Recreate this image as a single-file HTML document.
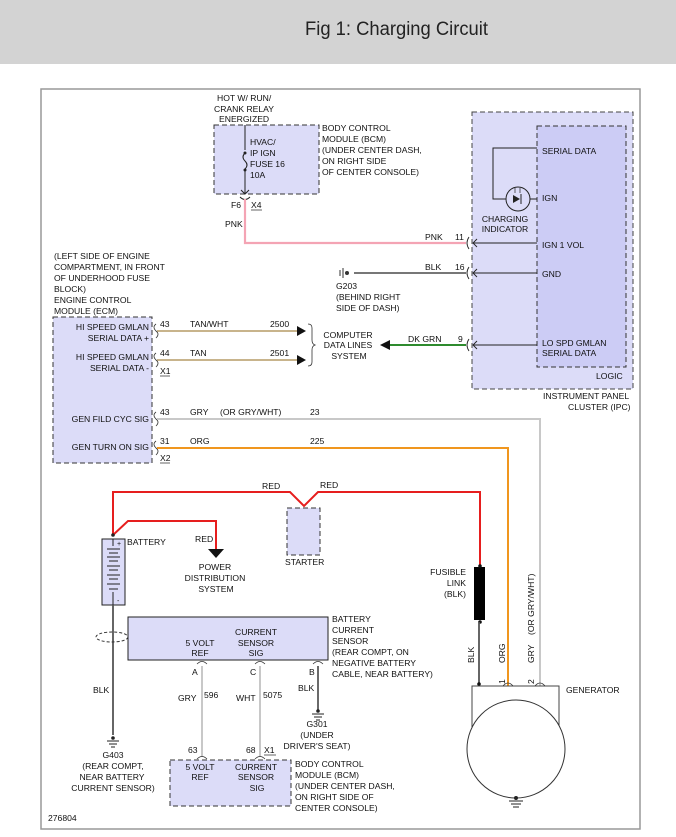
<!DOCTYPE html>
<html><head><meta charset="utf-8"><style>
html,body{margin:0;padding:0;background:#fff;width:676px;height:837px;overflow:hidden}
svg{display:block}
text{font-family:"Liberation Sans",sans-serif;font-size:8.6px;fill:#111}
.t{font-family:"Liberation Sans Narrow","Liberation Sans",sans-serif;font-size:19px;fill:#222}
</style></head><body>
<svg width="676" height="837" viewBox="0 0 676 837" xmlns="http://www.w3.org/2000/svg">
<rect x="0" y="0" width="676" height="64" fill="#d3d3d3"/>
<text class="t" x="305" y="35" textLength="183" lengthAdjust="spacingAndGlyphs">Fig 1: Charging Circuit</text>
<rect x="41" y="89" width="599" height="740" fill="#fff" stroke="#999" stroke-width="1.5"/>

<!-- top BCM -->
<text x="217" y="101">HOT W/ RUN/</text>
<text x="214" y="112">CRANK RELAY</text>
<text x="219" y="122">ENERGIZED</text>
<rect x="214" y="125" width="105" height="69" fill="#dcdcf8" stroke="#333" stroke-dasharray="5,3"/>
<line x1="245" y1="125" x2="245" y2="150" stroke="#222"/>
<path d="M245 153 q-4 4 0 8 q4 4 0 8" fill="none" stroke="#222"/>
<line x1="245" y1="170" x2="245" y2="194" stroke="#222"/>
<circle cx="245" cy="153" r="1.5" fill="#222"/><circle cx="245" cy="170" r="1.5" fill="#222"/>
<path d="M241 190 L245 194 L249 190" fill="none" stroke="#222"/>
<text x="250" y="145">HVAC/</text><text x="250" y="156">IP IGN</text><text x="250" y="167">FUSE 16</text><text x="250" y="178">10A</text>
<text x="322" y="131">BODY CONTROL</text><text x="322" y="142">MODULE (BCM)</text><text x="322" y="153">(UNDER CENTER DASH,</text><text x="322" y="164">ON RIGHT SIDE</text><text x="322" y="175">OF CENTER CONSOLE)</text>
<path d="M240 197 q5 5 10 0" fill="none" stroke="#222"/>
<text x="231" y="208">F6</text><text x="251" y="208">X4</text><line x1="251" y1="210" x2="262" y2="210" stroke="#222" stroke-width=".7"/>
<text x="225" y="227">PNK</text>
<polyline points="245,199 245,243 466,243" fill="none" stroke="#f4a4b4" stroke-width="2.2"/>
<text x="425" y="240">PNK</text><text x="455" y="240">11</text>

<line x1="354" y1="273" x2="466" y2="273" stroke="#777" stroke-width="2"/>
<line x1="340" y1="270" x2="340" y2="276" stroke="#333"/><line x1="343" y1="268" x2="343" y2="278" stroke="#333"/><circle cx="347" cy="273" r="2" fill="#333"/>
<text x="425" y="270">BLK</text><text x="455" y="270">16</text>
<text x="336" y="289">G203</text><text x="336" y="300">(BEHIND RIGHT</text><text x="336" y="311">SIDE OF DASH)</text>

<!-- ECM -->
<text x="54" y="259">(LEFT SIDE OF ENGINE</text><text x="54" y="270">COMPARTMENT, IN FRONT</text><text x="54" y="281">OF UNDERHOOD FUSE</text><text x="54" y="292">BLOCK)</text><text x="54" y="303">ENGINE CONTROL</text><text x="54" y="314">MODULE (ECM)</text>
<rect x="53" y="317" width="99" height="146" fill="#dcdcf8" stroke="#333" stroke-dasharray="5,3"/>
<g text-anchor="end">
<text x="149" y="330">HI SPEED GMLAN</text><text x="149" y="341">SERIAL DATA +</text>
<text x="149" y="360">HI SPEED GMLAN</text><text x="149" y="371">SERIAL DATA -</text>
<text x="149" y="422">GEN FILD CYC SIG</text><text x="149" y="450">GEN TURN ON SIG</text>
</g>
<line x1="157" y1="331" x2="298" y2="331" stroke="#c8b48c" stroke-width="2"/>
<line x1="157" y1="360" x2="298" y2="360" stroke="#c8b48c" stroke-width="2"/>
<polygon points="297,326 306,331 297,336" fill="#111"/><polygon points="297,355 306,360 297,365" fill="#111"/>
<text x="160" y="327">43</text><text x="190" y="327">TAN/WHT</text><text x="270" y="327">2500</text>
<text x="160" y="356">44</text><text x="190" y="356">TAN</text><text x="270" y="356">2501</text>
<text x="160" y="374">X1</text><line x1="160" y1="376" x2="170" y2="376" stroke="#222" stroke-width=".7"/>
<path d="M308 324 q4 0 4 4 v12 q0 4 3 5 q-3 1 -3 5 v12 q0 4 -4 4" fill="none" stroke="#333" stroke-width=".8"/>
<g text-anchor="middle"><text x="348" y="338">COMPUTER</text><text x="348" y="348">DATA LINES</text><text x="349" y="359">SYSTEM</text></g>
<line x1="387" y1="345" x2="466" y2="345" stroke="#2e8b2e" stroke-width="2"/>
<polygon points="380,345 390,340 390,350" fill="#111"/>
<text x="408" y="342">DK GRN</text><text x="458" y="342">9</text>
<g fill="none" stroke="#333" stroke-width=".8">
<path d="M156 324 q-4 3 0 7 q4 3 0 7"/><path d="M156 353 q-4 3 0 7 q4 3 0 7"/>
<path d="M156 412 q-4 3 0 7 q4 3 0 7"/><path d="M156 441 q-4 3 0 7 q4 3 0 7"/>
</g>
<polyline points="157,419 540,419 540,686" fill="none" stroke="#c8c8c8" stroke-width="2"/>
<polyline points="157,448 508,448 508,686" fill="none" stroke="#f0961e" stroke-width="2"/>
<text x="160" y="415">43</text><text x="190" y="415">GRY</text><text x="220" y="415">(OR GRY/WHT)</text><text x="310" y="415">23</text>
<text x="160" y="444">31</text><text x="190" y="444">ORG</text><text x="310" y="444">225</text>
<text x="160" y="461">X2</text><line x1="160" y1="463" x2="170" y2="463" stroke="#222" stroke-width=".7"/>

<!-- IPC -->
<rect x="472" y="112" width="161" height="277" fill="#dcdcf8" stroke="#444" stroke-dasharray="5,3"/>
<rect x="537" y="126" width="89" height="241" fill="#ccccf5" stroke="#333" stroke-dasharray="5,3"/>
<polyline points="537,148 493,148 493,199 506,199" fill="none" stroke="#222"/>
<circle cx="518" cy="199" r="12" fill="none" stroke="#222"/>
<line x1="530" y1="199" x2="537" y2="199" stroke="#222"/>
<polygon points="513,195 513,203 520,199" fill="#222"/><line x1="521" y1="194" x2="521" y2="204" stroke="#222"/>
<line x1="515" y1="188" x2="515" y2="193" stroke="#222" stroke-width=".7"/><line x1="520" y1="188" x2="520" y2="193" stroke="#222" stroke-width=".7"/>
<g text-anchor="middle"><text x="505" y="222">CHARGING</text><text x="505" y="232">INDICATOR</text></g>
<text x="542" y="154">SERIAL DATA</text><text x="542" y="201">IGN</text><text x="542" y="248">IGN 1 VOL</text><text x="542" y="277">GND</text>
<text x="542" y="346">LO SPD GMLAN</text><text x="542" y="356">SERIAL DATA</text><text x="596" y="379">LOGIC</text>
<text x="543" y="399">INSTRUMENT PANEL</text><text x="568" y="410">CLUSTER (IPC)</text>
<g fill="none" stroke="#222" stroke-width=".9">
<line x1="473" y1="243" x2="537" y2="243"/><line x1="473" y1="273" x2="537" y2="273"/><line x1="473" y1="345" x2="537" y2="345"/>
<path d="M477 239 L473 243 L477 247"/><path d="M477 269 L473 273 L477 277"/><path d="M477 341 L473 345 L477 349"/>
<path d="M469 237 q-4 6 0 12"/><path d="M469 267 q-4 6 0 12"/><path d="M469 339 q-4 6 0 12"/>
</g>

<!-- battery & red -->
<polyline points="113,535 113,492 290,492 304,506 318,492 480,492 480,567" fill="none" stroke="#e61e1e" stroke-width="2"/>
<polyline points="113,535 128,521 216,521 216,550" fill="none" stroke="#e61e1e" stroke-width="2"/>
<polygon points="208,549 224,549 216,558" fill="#111"/>
<text x="262" y="489">RED</text><text x="320" y="488">RED</text><text x="195" y="542">RED</text>
<g text-anchor="middle"><text x="215" y="570">POWER</text><text x="215" y="581">DISTRIBUTION</text><text x="216" y="592">SYSTEM</text></g>
<rect x="102" y="539" width="23" height="66" fill="#dcdcf8" stroke="#222"/>
<g stroke="#222"><line x1="107" y1="549" x2="120" y2="549"/><line x1="109" y1="553" x2="118" y2="553"/><line x1="107" y1="557" x2="120" y2="557"/><line x1="109" y1="561" x2="118" y2="561"/><line x1="107" y1="566" x2="120" y2="566"/><line x1="109" y1="570" x2="118" y2="570"/><line x1="107" y1="575" x2="120" y2="575"/><line x1="109" y1="579" x2="118" y2="579"/><line x1="107" y1="584" x2="120" y2="584"/><line x1="109" y1="589" x2="118" y2="589"/><line x1="113" y1="539" x2="113" y2="546"/><line x1="113" y1="592" x2="113" y2="605"/></g>
<text x="117" y="546" style="font-size:7px">+</text><text x="117" y="603" style="font-size:7px">-</text>
<text x="127" y="545">BATTERY</text>
<circle cx="113" cy="535" r="1.8" fill="#222"/>
<rect x="287" y="508" width="33" height="47" fill="#dcdcf8" stroke="#333" stroke-dasharray="5,3"/>
<text x="285" y="565">STARTER</text>
<rect x="474" y="567" width="11" height="53" fill="#000"/>
<circle cx="480" cy="566" r="1.8" fill="#111"/><circle cx="480" cy="622" r="1.8" fill="#111"/>
<g text-anchor="end"><text x="466" y="575">FUSIBLE</text><text x="466" y="586">LINK</text><text x="466" y="597">(BLK)</text></g>
<line x1="479" y1="622" x2="479" y2="684" stroke="#555" stroke-width="1.8"/>
<circle cx="479" cy="684" r="1.8" fill="#111"/>
<text transform="translate(474,663) rotate(-90)">BLK</text>

<!-- sensor -->
<line x1="113" y1="605" x2="113" y2="735" stroke="#555" stroke-width="1.8"/>
<ellipse cx="112" cy="637" rx="16" ry="5" fill="none" stroke="#333" stroke-dasharray="3,2"/>
<rect x="128" y="617" width="200" height="43" fill="#dcdcf8" stroke="#222"/>
<g text-anchor="middle"><text x="256" y="635">CURRENT</text><text x="256" y="646">SENSOR</text><text x="256" y="656">SIG</text><text x="200" y="646">5 VOLT</text><text x="200" y="656">REF</text></g>
<text x="332" y="622">BATTERY</text><text x="332" y="633">CURRENT</text><text x="332" y="644">SENSOR</text><text x="332" y="655">(REAR COMPT, ON</text><text x="332" y="666">NEGATIVE BATTERY</text><text x="332" y="677">CABLE, NEAR BATTERY)</text>
<text x="93" y="693">BLK</text>
<line x1="202" y1="666" x2="202" y2="757" stroke="#c8c8c8" stroke-width="2"/>
<line x1="260" y1="666" x2="260" y2="757" stroke="#c8c8c8" stroke-width="2"/>
<line x1="318" y1="666" x2="318" y2="710" stroke="#444" stroke-width="1.6"/>
<g fill="none" stroke="#333" stroke-width=".8"><path d="M197 664 q5 -5 10 0"/><path d="M255 664 q5 -5 10 0"/><path d="M313 664 q5 -5 10 0"/><path d="M197 759 q5 -5 10 0"/><path d="M255 759 q5 -5 10 0"/></g>
<text x="192" y="675">A</text><text x="250" y="675">C</text><text x="309" y="675">B</text>
<text x="178" y="701">GRY</text><text x="204" y="698">596</text><text x="236" y="701">WHT</text><text x="263" y="698">5075</text><text x="298" y="691">BLK</text>
<circle cx="318" cy="711" r="1.8" fill="#222"/><line x1="312" y1="714" x2="324" y2="714" stroke="#222"/><line x1="314" y1="717" x2="322" y2="717" stroke="#222"/><line x1="316" y1="720" x2="320" y2="720" stroke="#222"/>
<g text-anchor="middle"><text x="317" y="727">G301</text><text x="317" y="738">(UNDER</text><text x="317" y="749">DRIVER'S SEAT)</text></g>
<circle cx="113" cy="738" r="1.8" fill="#222"/><line x1="107" y1="741" x2="119" y2="741" stroke="#222"/><line x1="109" y1="744" x2="117" y2="744" stroke="#222"/><line x1="111" y1="747" x2="115" y2="747" stroke="#222"/>
<g text-anchor="middle"><text x="113" y="758">G403</text><text x="113" y="769">(REAR COMPT,</text><text x="112" y="780">NEAR BATTERY</text><text x="113" y="791">CURRENT SENSOR)</text></g>
<text x="188" y="753">63</text><text x="246" y="753">68</text><text x="264" y="753">X1</text><line x1="264" y1="755" x2="276" y2="755" stroke="#222" stroke-width=".7"/>
<rect x="170" y="760" width="121" height="46" fill="#dcdcf8" stroke="#333" stroke-dasharray="5,3"/>
<g text-anchor="middle"><text x="200" y="770">5 VOLT</text><text x="200" y="780">REF</text><text x="256" y="770">CURRENT</text><text x="256" y="780">SENSOR</text><text x="257" y="791">SIG</text></g>
<text x="295" y="767">BODY CONTROL</text><text x="295" y="778">MODULE (BCM)</text><text x="295" y="789">(UNDER CENTER DASH,</text><text x="295" y="800">ON RIGHT SIDE OF</text><text x="295" y="811">CENTER CONSOLE)</text>
<text x="48" y="821">276804</text>

<!-- generator -->
<polyline points="472,727 472,686 559,686 559,727" fill="none" stroke="#444"/>
<circle cx="516" cy="749" r="49" fill="#fff" stroke="#333"/>
<circle cx="516" cy="798" r="2" fill="#222"/>
<line x1="509" y1="801" x2="523" y2="801" stroke="#222"/><line x1="511" y1="804" x2="521" y2="804" stroke="#222"/><line x1="513" y1="807" x2="519" y2="807" stroke="#222"/>
<g fill="none" stroke="#333" stroke-width=".8"><path d="M503 686 q5 -6 10 0"/><path d="M535 686 q5 -6 10 0"/></g>
<text x="566" y="693">GENERATOR</text>
<text transform="translate(505,684) rotate(-90)">1</text><text transform="translate(505,663) rotate(-90)">ORG</text>
<text transform="translate(534,684) rotate(-90)">2</text><text transform="translate(534,663) rotate(-90)">GRY</text>
<text transform="translate(534,635) rotate(-90)">(OR GRY/WHT)</text>
</svg>
</body></html>
